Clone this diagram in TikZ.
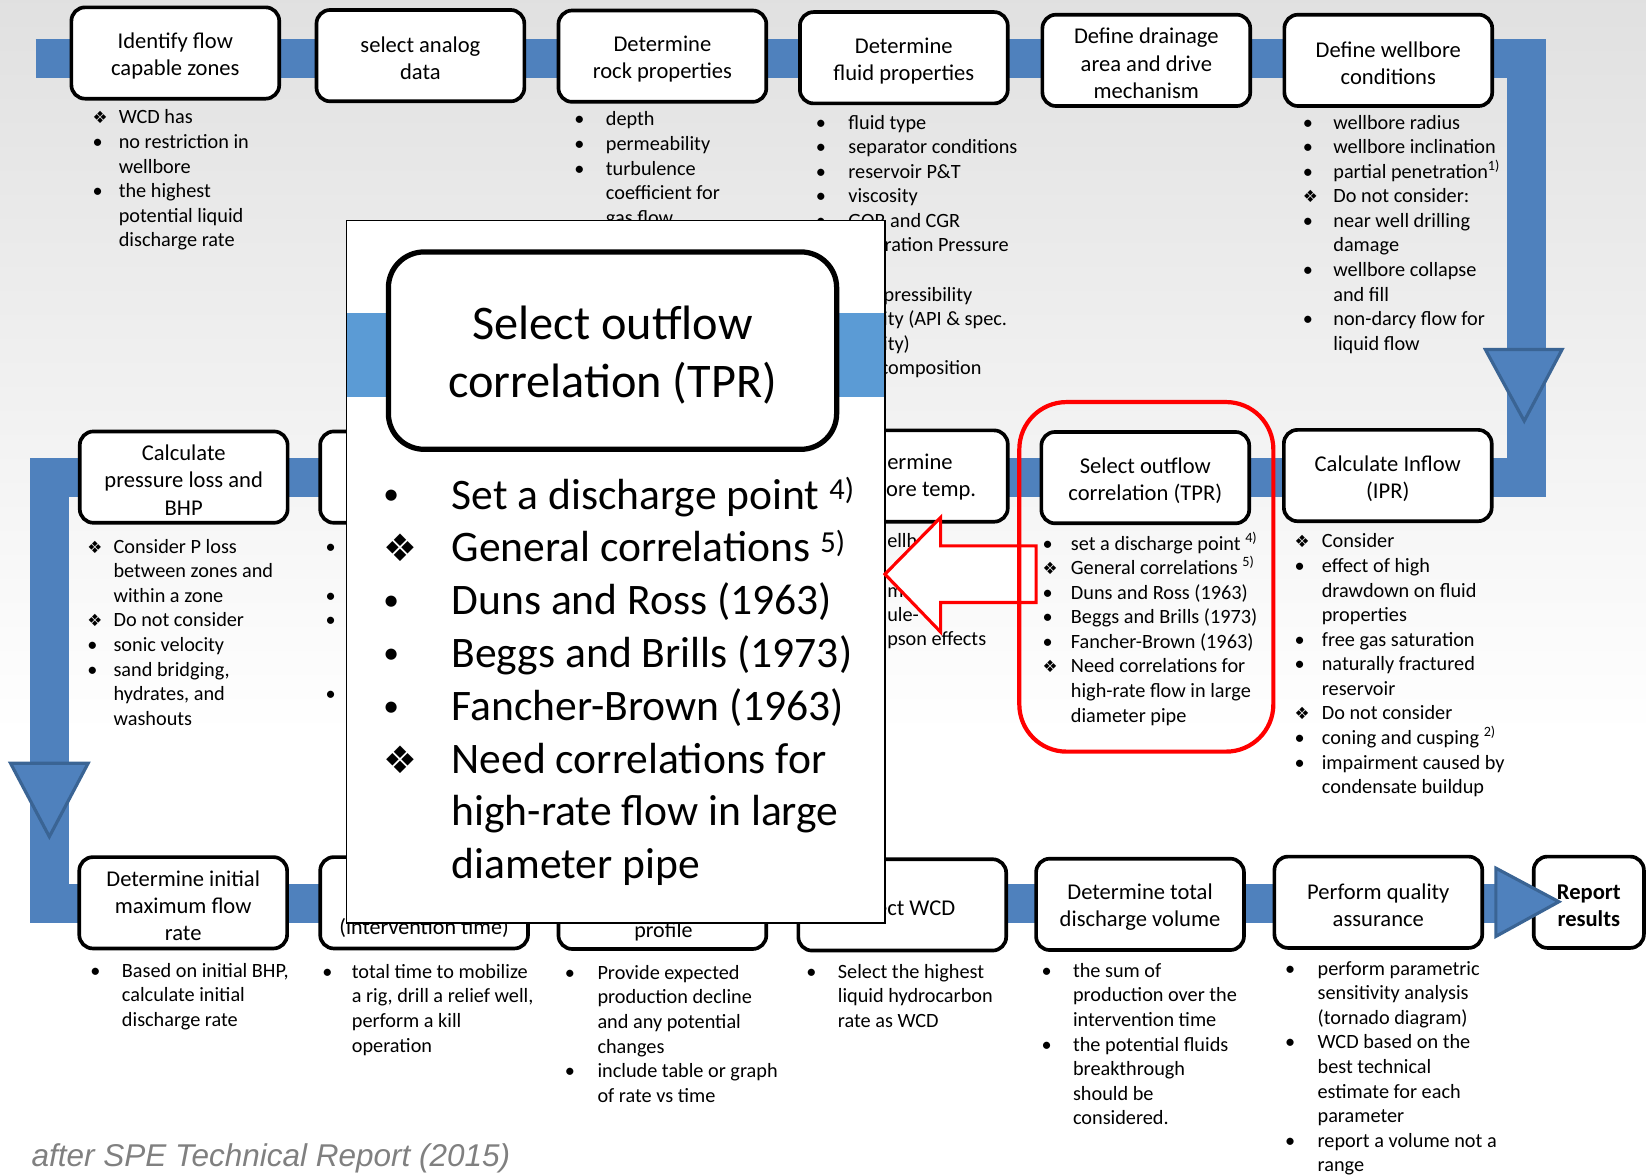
\documentclass[tikz,border=0pt]{standalone}
\usepackage{fontspec}
\setmainfont{Carlito}
\newfontfamily\djv{DejaVu Sans}
\newfontfamily\arl{Liberation Sans}
\definecolor{band}{HTML}{4F81BD}
\definecolor{bandline}{HTML}{3A6494}
\definecolor{lband}{HTML}{5B9BD5}
\newlength\ind
\def\dsz{16}
\def\bulletsym{\textbullet}
\newcommand\bu[1]{\hbox{\makebox[\ind][l]{\bulletsym}#1}}
\newcommand\di[1]{\hbox{\makebox[\ind][l]{\djv\fontsize{\dsz}{\dsz}\selectfont ❖}#1}}
\newcommand\co[1]{\hbox{\hspace*{\ind}#1}}
\newcommand\bl{\hbox{}}
\newcommand\col[3][23.4pt]{\vtop{\setlength\ind{#2}\baselineskip=#1\lineskiplimit=-30pt\lineskip=0pt #3}}
\newcommand\dn{\rule{0pt}{20.5pt}}
\begin{document}
\begin{tikzpicture}[x=1pt,y=-1pt,
  box/.style={draw=black,line width=3.5pt,rounded corners=13pt,fill=white,minimum width=198pt,minimum height=87pt,inner sep=0pt,align=center,font=\fontsize{21.5}{26}\selectfont},
  txt/.style={anchor=base west,inner sep=0pt,font=\fontsize{19.3}{23.4}\selectfont},
  frag/.style={anchor=base west,inner sep=0pt,font=\fontsize{19.3}{23.4}\selectfont},
  tfrag/.style={anchor=base west,inner sep=0pt,font=\fontsize{21.5}{26}\selectfont},
  btitle/.style={anchor=base,inner sep=0pt,font=\fontsize{21}{26}\selectfont},
  tri/.style={fill=band,draw=bandline,line width=3pt,line join=miter},
  flow/.style={draw=band,line width=37pt,line join=miter}]
\useasboundingbox (0,0) rectangle (1568,1120);
\shade[top color=black!12,bottom color=white] (0,0) rectangle (1568,700);
\fill[white] (0,699) rectangle (1568,1120);
% flow band
\coordinate (f0) at (34,56);
\coordinate (f1) at (1454,56);
\coordinate (f2) at (1454,455);
\coordinate (f3) at (47,455);
\coordinate (f4) at (47,861);
\coordinate (f5) at (1432,861);
\draw[flow] (f0) -- (f1) -- (f2) -- (f3) -- (f4) -- (f5);
\draw[tri] (1415,333) -- (1488,333) -- (1452,401) -- cycle;
\draw[tri] (10,727) -- (84,727) -- (47,797) -- cycle;
% top row
\node[box] (b1) at (167,50.5) {\dn Identify flow\\capable zones};
\node[box] (b2) at (400.5,53) {\dn select analog\\data};
\node[box] (b3) at (631,53.5) {\dn Determine\\rock properties};
\node[box] (b4) at (861,55) {\dn Determine\\fluid properties};
\node[box] (b5) at (1092,57.5) {\dn Define drainage\\area and drive\\mechanism};
\node[box] (b6) at (1322.5,57.5) {\dn Define wellbore\\conditions};
% middle row
\node[box] (m1) at (175,454.5) {\dn Calculate\\pressure loss and\\BHP};
\node[box] (m2) at (404,454.5) {};
\node[box] (m3) at (631,454) {};
\node[box] (m4) at (861,453.5) {};
\node[tfrag] (m4a) at (845,447.5) {ermine};
\node[tfrag] (m4b) at (844,473) {ore temp.};
\node[box] (m5) at (1091,455) {\dn Select outflow\\correlation (TPR)};
\node[box] (m6) at (1322,453) {\dn Calculate Inflow\\(IPR)};
% bottom row
\node[box] (l1) at (174.5,860) {\dn Determine initial\\maximum flow\\rate};
\node[box] (l2) at (404,860) {};
\node[box] (l3) at (631,860.5) {};
\node[box] (l4) at (859.5,862) {\dn Select WCD};
\node[box] (l5) at (1086,861.5) {\dn Determine total\\discharge volume};
\node[box] (l6) at (1313,859.5) {\dn Perform quality\\assurance};
\node[box,minimum width=105pt,font=\fontsize{21.5}{26}\selectfont\bfseries] (l7) at (1513.5,859.5) {\dn Report\\results};
\node[btitle] (l2t) at (404,890) {(intervention time)};
\node[btitle] (l3t) at (632,893) {profile};
\draw[tri] (1425,827) -- (1485,859) -- (1425,892) -- cycle;
% texts, top row
\node[txt] (t1) at (88,118) {\col{25pt}{\di{WCD has}\bu{no restriction in}\co{wellbore}\bu{the highest}\co{potential liquid}\co{discharge rate}}};
\node[txt] (t3) at (547,120) {\col{30pt}{\bu{depth}\bu{permeability}\bu{turbulence}\co{coefficient for}\co{gas flow}}};
\node[txt] (t4) at (777,123) {\col{31pt}{\bu{fluid type}\bu{separator conditions}\bu{reservoir P\&T}\bu{viscosity}\bu{GOR and CGR}\bu{Saturation Pressure}\bl\bu{compressibility}\bu{gravity (API \& spec.}\co{gravity)}\bu{gas composition}}};
\node[txt] (t6) at (1241,123) {\col{29pt}{\bu{wellbore radius}\bu{wellbore inclination}\bu{partial penetration\textsuperscript{1)}}\di{Do not consider:}\bu{near well drilling}\co{damage}\bu{wellbore collapse}\co{and fill}\bu{non-darcy flow for}\co{liquid flow}}};
% texts, middle row
\node[txt] (n1) at (83,527) {\col{25pt}{\di{Consider P loss}\co{between zones and}\co{within a zone}\di{Do not consider}\bu{sonic velocity}\bu{sand bridging,}\co{hydrates, and}\co{washouts}}};
\node[txt] (n2) at (310,527) {\col{20pt}{\bu{}\bl\bu{}\bu{}\bl\bl\bu{}}};
\node[frag] (n4a) at (845,522) {ellh};
\node[frag] (n4b) at (845,569) {m};
\node[frag] (n4c) at (845,592) {ule-};
\node[frag] (n4d) at (845,615) {pson effects};
\node[txt] (n5) at (993,524) {\col{27pt}{\bu{set a discharge point \textsuperscript{4)}}\di{General correlations \textsuperscript{5)}}\bu{Duns and Ross (1963)}\bu{Beggs and Brills (1973)}\bu{Fancher-Brown (1963)}\di{Need correlations for}\co{high-rate flow in large}\co{diameter pipe}}};
\node[txt] (n6) at (1233,522) {\col{26pt}{\di{Consider}\bu{effect of high}\co{drawdown on fluid}\co{properties}\bu{free gas saturation}\bu{naturally fractured}\co{reservoir}\di{Do not consider}\bu{coning and cusping \textsuperscript{2)}}\bu{impairment caused by}\co{condensate buildup}}};
% texts, bottom row
\node[txt] (s1) at (86,931) {\col{30pt}{\bu{Based on initial BHP,}\co{calculate initial}\co{discharge rate}}};
\node[txt] (s2) at (307,932) {\col{28pt}{\bu{total time to mobilize}\co{a rig, drill a relief well,}\co{perform a kill}\co{operation}}};
\node[txt] (s3) at (538,933) {\col{31pt}{\bu{Provide expected}\co{production decline}\co{and any potential}\co{changes}\bu{include table or graph}\co{of rate vs time}}};
\node[txt] (s4) at (768,932) {\col{30pt}{\bu{Select the highest}\co{liquid hydrocarbon}\co{rate as WCD}}};
\node[txt] (s5) at (992,931) {\col{30pt}{\bu{the sum of}\co{production over the}\co{intervention time}\bu{the potential fluids}\co{breakthrough}\co{should be}\co{considered.}}};
\node[txt] (s6) at (1224,929) {\col{31pt}{\bu{perform parametric}\co{sensitivity analysis}\co{(tornado diagram)}\bu{WCD based on the}\co{best technical}\co{estimate for each}\co{parameter}\bu{report a volume not a}\co{range}}};
% zoomed overlay
\fill[white] (330,210) rectangle (843,879);
\fill[lband] (330,298) rectangle (843,378);
\node[draw=black,line width=1.5pt,minimum width=513pt,minimum height=669pt,inner sep=0pt] (ov) at (586.5,544.5) {};
\node[draw=black,line width=5pt,rounded corners=34pt,fill=white,minimum width=427pt,minimum height=188pt,align=center,inner sep=0pt,font=\fontsize{46}{55}\selectfont] (ovt) at (583.5,334) {\rule{0pt}{41pt}Select outflow\\correlation (TPR)};
\node[anchor=base west,inner sep=0pt,font=\fontsize{41.5}{50.3}\selectfont] (ovl) at (365,485) {\col[50.3pt]{65pt}{\def\dsz{36}\def\bulletsym{\raisebox{4pt}{\fontsize{30}{30}\selectfont\textbullet}}\bu{Set a discharge point \textsuperscript{4)}}\di{General correlations \textsuperscript{5)}}\bu{Duns and Ross (1963)}\bu{Beggs and Brills (1973)}\bu{Fancher-Brown (1963)}\di{Need correlations for}\co{high-rate flow in large}\co{diameter pipe}}};
% red arrow and highlight
\draw[red,fill=white,line width=3pt] (843,547) -- (896,493) -- (896,520) -- (987,520) -- (987,574) -- (896,574) -- (896,602) -- cycle;
\node[draw=red,line width=4pt,rounded corners=45pt,minimum width=242pt,minimum height=333pt,inner sep=0pt] (hl) at (1092,549.5) {};
% caption
\node[anchor=base west,inner sep=0pt,font=\arl\itshape\fontsize{30}{36}\selectfont,text=black!50] (cap) at (30,1111) {after SPE Technical Report (2015)};
\end{tikzpicture}
\end{document}
